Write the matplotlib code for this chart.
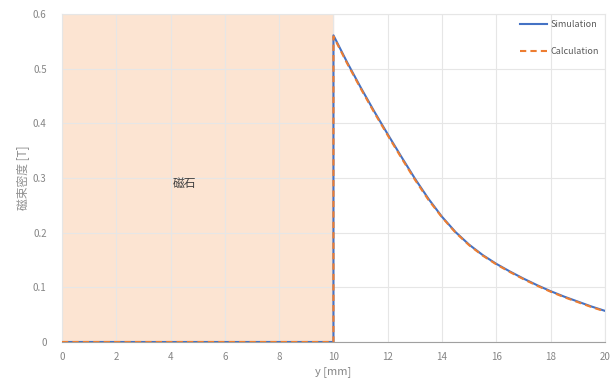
import matplotlib
matplotlib.use("Agg")
import matplotlib.pyplot as plt

plt.rcParams['font.family'] = ['Noto Sans CJK JP', 'DejaVu Sans']

# Flux density along y: zero inside the magnet, decaying outside it
y_mm = [0, 10, 10, 10.5, 11, 11.5, 12, 12.5, 13, 13.5, 14, 14.5, 15, 15.5,
        16, 16.5, 17, 17.5, 18, 18.5, 19, 19.5, 20]
b_sim = [0, 0, 0.561, 0.512, 0.466, 0.422, 0.380, 0.339, 0.299, 0.262, 0.229,
         0.201, 0.178, 0.159, 0.143, 0.129, 0.116, 0.104, 0.093, 0.083,
         0.074, 0.065, 0.057]
b_calc = [0, 0, 0.559, 0.510, 0.464, 0.420, 0.378, 0.337, 0.297, 0.260, 0.228,
          0.200, 0.177, 0.158, 0.142, 0.128, 0.115, 0.103, 0.092, 0.082,
          0.073, 0.064, 0.056]

magnet_span = (0, 10)
x_ticks = list(range(0, 21, 2))
y_ticks = [0, 0.1, 0.2, 0.3, 0.4, 0.5, 0.6]

fig = plt.figure(figsize=(6.11, 3.87), dpi=100)
ax = fig.add_axes([0.1015, 0.1163, 0.8885, 0.8475])

# Magnet region
ax.axvspan(*magnet_span, color='#fce4d2', zorder=0)
ax.text(4.5, 0.29, '磁石', fontsize=8.5, color='#404040', ha='center', va='center')

ax.plot(y_mm, b_sim, color='#4472c4', linewidth=1.5, label='Simulation', zorder=3)
ax.plot(y_mm, b_calc, color='#ed7d31', linewidth=1.5, linestyle=(0, (3, 2)),
        label='Calculation', zorder=4)

ax.set_xlim(0, 20)
ax.set_ylim(0, 0.6)
ax.set_xticks(x_ticks)
ax.set_yticks(y_ticks)
ax.set_yticklabels(['0' if v == 0 else f'{v:g}' for v in y_ticks])
ax.grid(True, color='#e6e6e6', linewidth=0.8, zorder=1)
ax.set_axisbelow(True)
ax.tick_params(length=0, labelsize=7, colors='#858585')
ax.tick_params(axis='x', pad=7)
ax.tick_params(axis='y', pad=11)

for side in ('top', 'right', 'left'):
    ax.spines[side].set_color('#e6e6e6')
    ax.spines[side].set_linewidth(0.8)
ax.spines['bottom'].set_color('#a0a0a0')

ax.set_xlabel('y [mm]', fontsize=8, color='#858585', labelpad=3)
ax.set_ylabel('磁束密度 [T]', fontsize=8.5, color='#909090', labelpad=3)

leg = ax.legend(loc='upper right', frameon=False, fontsize=6.5, handlelength=3,
                labelspacing=2.0, handletextpad=0.3, borderaxespad=0.3)
for t in leg.get_texts():
    t.set_color('#595959')

fig.savefig('out.png', dpi=100, facecolor='white')
